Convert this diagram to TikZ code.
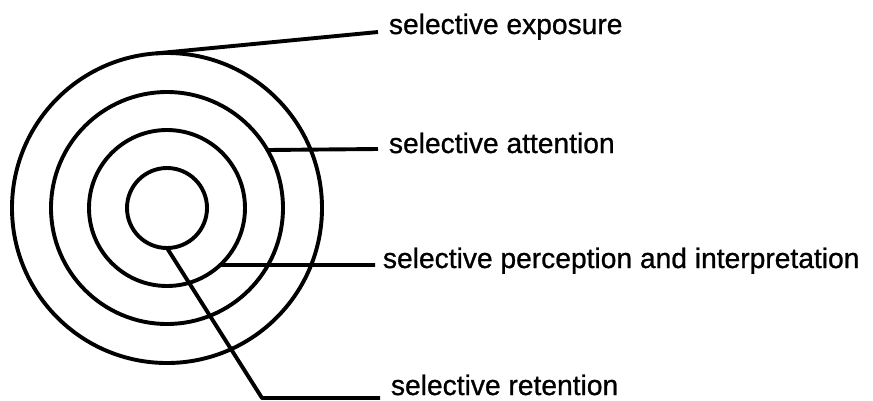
\documentclass[tikz,border=0pt]{standalone}
\usepackage{fontspec}
\setmainfont{Liberation Sans}
\newfontfamily\nhanfont{Liberation Sans}[FakeBold=0.9]
\begin{document}
\begin{tikzpicture}[x=1pt, y=-1pt, line width=3.9pt, line join=round,
	ring/.style={circle, draw, inner sep=0pt, outer sep=0pt, minimum size=#1},
	lbl/.style={anchor=base west, inner sep=0pt, font=\nhanfont\fontsize{28.2}{32}\selectfont}]
	\useasboundingbox (0,0) rectangle (873,400);
	\coordinate (O) at (167,208);
	% bốn vòng tròn đồng tâm
	\node[ring=310pt] (vong1) at (O) {};
	\node[ring=232pt] (vong2) at (O) {};
	\node[ring=156pt] (vong3) at (O) {};
	\node[ring=80pt] (vong4) at (O) {};
	% nhãn
	\node[lbl] (exposure) at (387,34) {selective exposure};
	\node[lbl] (attention) at (387,153) {selective attention};
	\node[lbl] (perception) at (381,268) {selective perception and interpretation};
	\node[lbl] (retention) at (389,395) {selective retention};
	\coordinate (gap) at (262,398);
	% đường nối
	\draw (vong1.94.4) -- ([xshift=-9pt, yshift=2pt]exposure.base west);
	\draw (vong2.30.5) -- ([xshift=-9pt, yshift=4pt]attention.base west);
	\draw (vong3.-47) -- ([xshift=-6pt, yshift=3pt]perception.base west);
	\draw (vong4.south) -- (gap) -- ([xshift=-9pt, yshift=-3pt]retention.base west);
\end{tikzpicture}
\end{document}
